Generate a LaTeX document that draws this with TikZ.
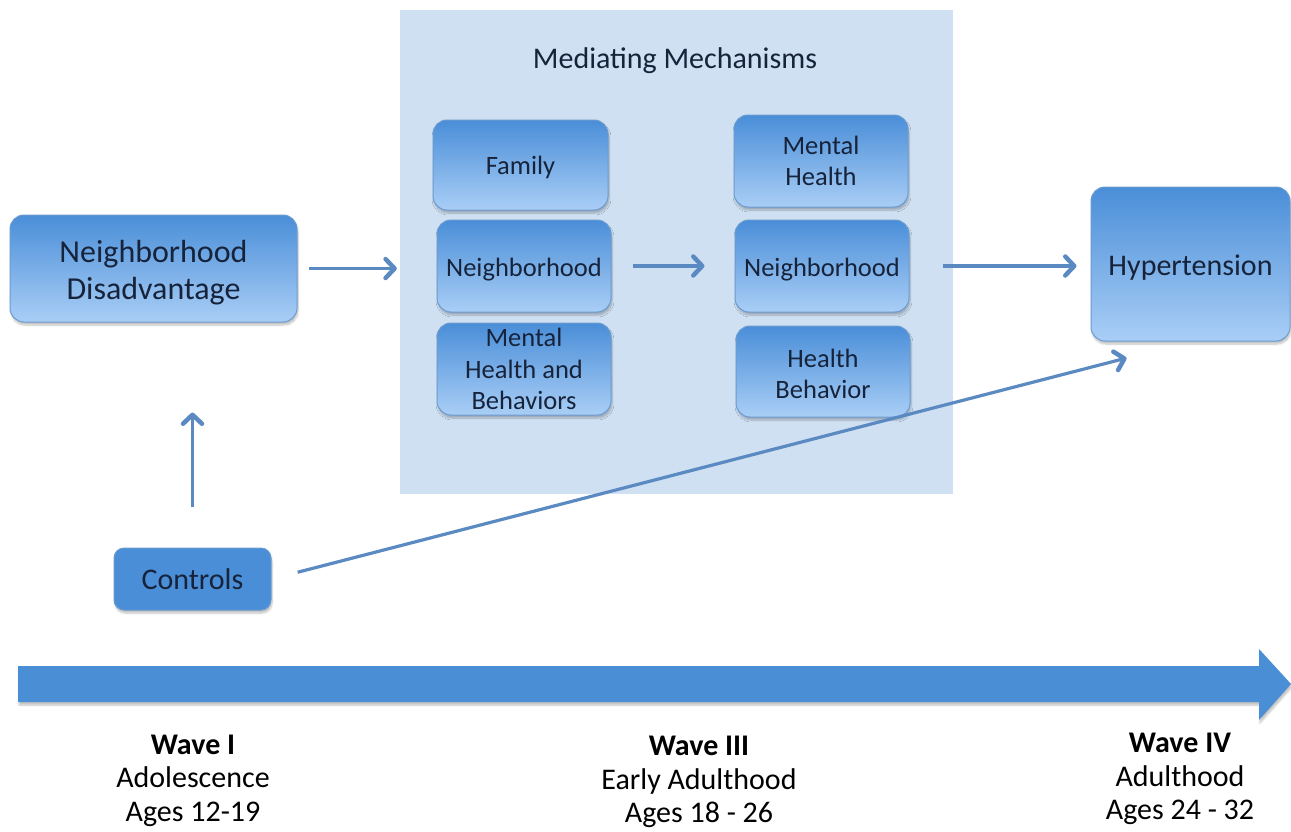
\documentclass[tikz,border=0pt]{standalone}
\usepackage{fontspec}
\setmainfont{Carlito}
\usetikzlibrary{arrows.meta,shadows.blur}
\definecolor{boxtop}{HTML}{4A8ED8}
\definecolor{boxbot}{HTML}{A9CEF6}
\definecolor{boxedge}{HTML}{6B9BD0}
\definecolor{panel}{HTML}{CFE0F2}
\definecolor{arrowc}{HTML}{5B8AC2}
\definecolor{txt}{HTML}{16233A}
\definecolor{timeline}{HTML}{4A8FD6}
\newcommand\dnby[1]{\rule{0pt}{\dimexpr\fontcharht\font`l+#1\relax}}
\begin{document}
\begin{tikzpicture}[x=1pt,y=-1pt,
  gbox/.style={rounded corners=14pt, draw=boxedge, line width=1pt,
    top color=boxtop, bottom color=boxbot, text=txt, align=center, inner sep=0pt,
    blur shadow={shadow xshift=1pt,shadow yshift=-3pt,shadow blur steps=6,shadow opacity=25}},
  small/.style={font=\fontsize{26.5}{31.5}\selectfont, minimum width=174pt, minimum height=92pt},
  conn/.style={draw=arrowc, line width=3.2pt, -{Straight Barb[length=9pt,width=19pt,line width=4.5pt,round]}},
  wave/.style={align=center, text=black, font=\fontsize{30}{33.5}\selectfont, inner sep=0pt}
]
\useasboundingbox (0,0) rectangle (1291,831);
% panel
\node[fill=panel, minimum width=553pt, minimum height=484pt, inner sep=0pt] (mm) at (676.5,252) {};
\node[text=txt, font=\fontsize{30}{36}\selectfont, inner sep=0pt] (mmt) at (675,61) {Mediating Mechanisms};
% main boxes
\node[gbox, minimum width=287pt, minimum height=107pt, font=\fontsize{32}{37}\selectfont] (nd) at (153.5,268.5) {\dnby{9pt}Neighborhood\\Disadvantage};
\node[gbox, minimum width=199pt, minimum height=154pt, font=\fontsize{30}{36}\selectfont] (ht) at (1190.5,264) {\dnby{6pt}Hypertension};
\node[rounded corners=10pt, draw=boxedge, line width=1pt, fill=boxtop, text=txt, inner sep=0pt,
  minimum width=157pt, minimum height=62pt, font=\fontsize{30}{36}\selectfont,
  blur shadow={shadow xshift=1pt,shadow yshift=-3pt,shadow blur steps=6,shadow opacity=25}] (ctrl) at (192.5,579) {Controls};
% left column
\node[gbox, small, minimum width=175pt, minimum height=90pt] (fam) at (520.5,165) {\dnby{4pt}Family};
\node[gbox, small] (ln) at (524,266) {\dnby{8pt}Neighborhood};
\node[gbox, small] (lm) at (524,369) {Mental\\Health and\\Behaviors};
% right column
\node[gbox, small] (rm) at (821,161) {Mental\\Health};
\node[gbox, small] (rn) at (822,266) {\dnby{8pt}Neighborhood};
\node[gbox, small, minimum height=91pt] (rh) at (823,371.5) {\dnby{5pt}Health\\Behavior};
% connectors
\draw[conn, shorten <=11pt, shorten >=3pt] (nd.east) -- (nd.east -| mm.west);
\draw[conn, shorten <=21pt, shorten >=30pt] (ln.east) -- (rn.west);
\draw[conn, shorten <=33pt, shorten >=14pt] (rn.east) -- (rn.east -| ht.west);
\draw[conn, shorten <=41pt, shorten >=90pt] (ctrl.north) -- (ctrl.north |- nd.south);
\draw[conn, shorten <=27pt, shorten >=66pt] (ctrl.east) -- (ht.south);
% timeline
\fill[timeline, blur shadow={shadow xshift=1pt,shadow yshift=-3pt,shadow blur steps=6,shadow opacity=25}]
  (18,666) -- (1259,666) -- (1259,649) -- (1291,684) -- (1259,720) -- (1259,702) -- (18,702) -- cycle;
% wave labels
\node[wave] (w1) at (193,780.5) {\textbf{Wave I}\\Adolescence\\Ages 12-19};
\node[wave] (w3) at (699,782) {\textbf{Wave III}\\Early Adulthood\\Ages 18 - 26};
\node[wave] (w4) at (1180,779) {\textbf{Wave IV}\\Adulthood\\Ages 24 - 32};
\end{tikzpicture}
\end{document}
